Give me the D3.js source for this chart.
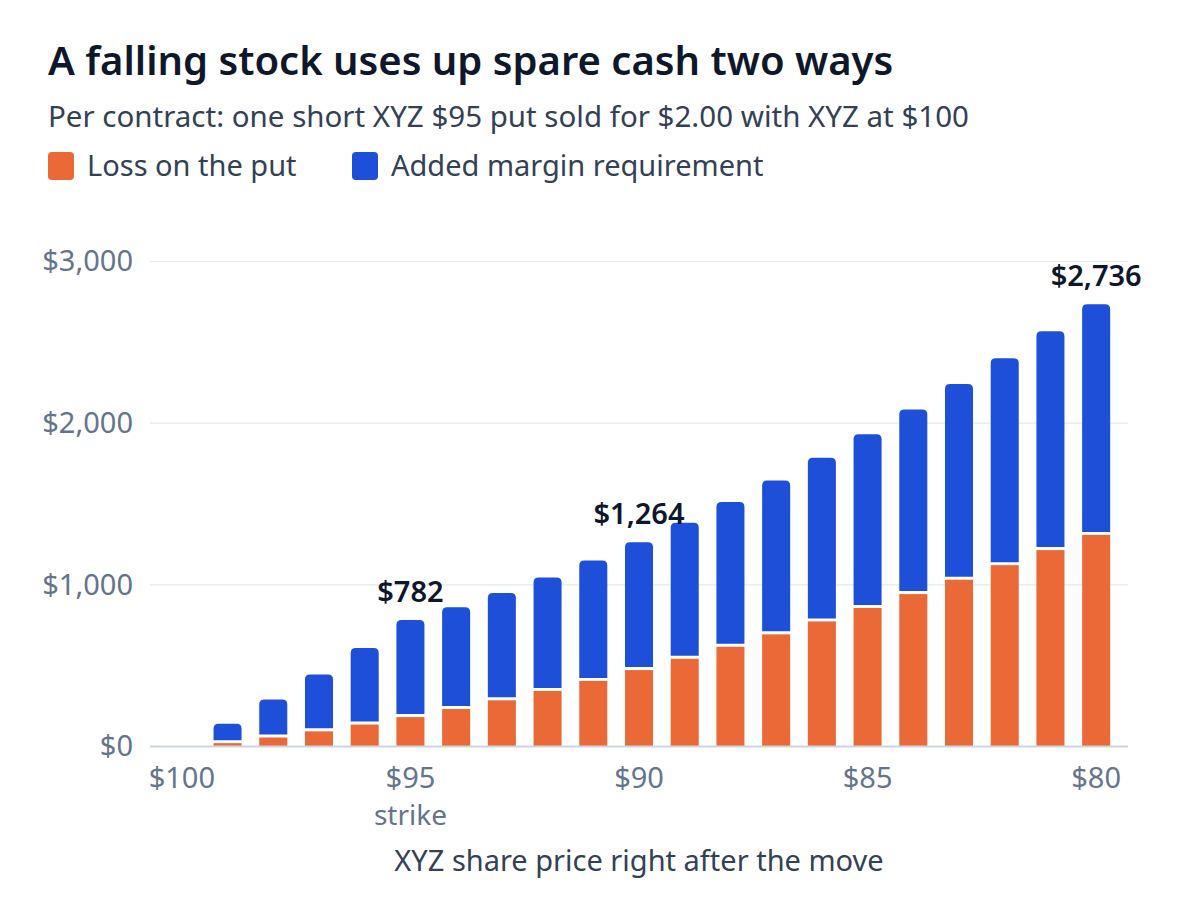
<!DOCTYPE html>
<html>
<head>
<meta charset="utf-8">
<script src="https://cdn.jsdelivr.net/npm/d3@7"></script>
<style>
    html, body { margin: 0; padding: 0; background: #fff; }
    #chart { width: 1200px; height: 900px; }
    text { font-family: 'Noto Sans', 'Open Sans', sans-serif; }
</style>
</head>
<body>
<div id="chart"></div>
<script>
// ******************************* ******************************* //
// DATA: ONE SHORT XYZ $95 PUT, PER CONTRACT //
// ******************************* ******************************* //
const prices = [100, 99, 98, 97, 96, 95, 94, 93, 92, 91, 90, 89, 88, 87, 86, 85, 84, 83, 82, 81, 80];
const putLoss = [0, 30, 65, 103, 145, 191, 241, 295, 353, 415, 482, 552, 626, 703, 783, 866, 952, 1041, 1131, 1224, 1318];
const addedMargin = [0, 111, 225, 343, 465, 591, 621, 655, 693, 735, 782, 832, 886, 943, 1003, 1066, 1132, 1201, 1271, 1344, 1418];
const xTicks = [100, 95, 90, 85, 80];
const yTicks = [0, 1000, 2000, 3000];
const callouts = [95, 90, 80];
const seriesNames = ['Loss on the put', 'Added margin requirement'];
const colors = ['#ea6936', '#1e4fd8'];

const rows = prices.map((p, i) => ({ price: p, loss: putLoss[i], margin: addedMargin[i] }));

// MAIN SVG
const svg = d3.select('#chart').append('svg')
    .attr('width', 1200)
    .attr('height', 900);

// SET SIZES
const MARGIN = { top: 261.5, right: 72, bottom: 153.5, left: 150 };
const WIDTH = 1200 - MARGIN.left - MARGIN.right;
const HEIGHT = 900 - MARGIN.top - MARGIN.bottom;

// TITLE + SUBTITLE
svg.append('text')
    .attr('x', 48).attr('y', 75)
    .style('font-size', '40px').style('font-weight', 600)
    .style('fill', '#0f172a')
    .text('A falling stock uses up spare cash two ways');

svg.append('text')
    .attr('x', 48).attr('y', 127)
    .style('font-size', '29.5px')
    .style('fill', '#334155')
    .text('Per contract: one short XYZ $95 put sold for $2.00 with XYZ at $100');

// LEGEND
const legendX = [48, 352];
seriesNames.forEach((name, i) => {
    const lg = svg.append('g').attr('transform', `translate(${legendX[i]}, 152)`);
    lg.append('rect')
        .attr('width', 26).attr('height', 28).attr('rx', 4)
        .style('fill', colors[i]);
    lg.append('text')
        .attr('x', 39).attr('y', 24)
        .style('font-size', '29px')
        .style('fill', '#334155')
        .text(name);
});

// APPEND G
const g = svg.append('g').attr('transform', `translate(${MARGIN.left},${MARGIN.top})`);

// SCALES
const x = d3.scaleBand()
    .domain(prices)
    .range([0, WIDTH])
    .paddingInner(0.387)
    .paddingOuter(0.39);

const y = d3.scaleLinear()
    .domain([0, 3000])
    .range([HEIGHT, 0]);

// GRID LINES
g.selectAll('.grid')
    .data(yTicks.filter(d => d > 0))
    .enter().append('line')
    .attr('class', 'grid')
    .attr('x1', 0).attr('x2', WIDTH)
    .attr('y1', d => y(d)).attr('y2', d => y(d))
    .style('stroke', '#e5e7eb').style('stroke-width', 1.2);

// Y AXIS
const yAxisCall = d3.axisLeft(y)
    .tickValues(yTicks)
    .tickSize(0)
    .tickPadding(17)
    .tickFormat(d => '$' + d3.format(',')(d));

const yAxis = g.append('g').attr('class', 'axis y-axis').call(yAxisCall);
yAxis.select('.domain').remove();
yAxis.selectAll('text')
    .style('font-size', '29px')
    .style('fill', '#64748b');

// STACKED BARS
const stacked = d3.stack().keys(['loss', 'margin'])(rows);
const gap = 1.5;

// orange: loss on the put
g.selectAll('.bar-loss')
    .data(stacked[0].filter(d => d[1] > d[0]))
    .enter().append('rect')
    .attr('class', 'bar-loss')
    .attr('x', d => x(d.data.price))
    .attr('width', x.bandwidth())
    .attr('y', d => y(d[1]) + gap)
    .attr('height', d => y(d[0]) - y(d[1]) - gap)
    .style('fill', colors[0]);

// blue: added margin, rounded top corners
const r = 5;
const topRounded = d => {
    const x0 = x(d.data.price), x1 = x0 + x.bandwidth();
    const yt = y(d[1]), yb = y(d[0]) - gap;
    return `M${x0},${yb}V${yt + r}Q${x0},${yt} ${x0 + r},${yt}H${x1 - r}Q${x1},${yt} ${x1},${yt + r}V${yb}Z`;
};
g.selectAll('.bar-margin')
    .data(stacked[1].filter(d => d[1] > d[0]))
    .enter().append('path')
    .attr('class', 'bar-margin')
    .attr('d', topRounded)
    .style('fill', colors[1]);

// BASELINE
g.append('line')
    .attr('x1', 0).attr('x2', WIDTH)
    .attr('y1', y(0)).attr('y2', y(0))
    .style('stroke', '#cbd5e1').style('stroke-width', 2);

// X AXIS
const xAxisCall = d3.axisBottom(x)
    .tickValues(xTicks)
    .tickSize(0)
    .tickPadding(21)
    .tickFormat(d => '$' + d);

const xAxis = g.append('g').attr('class', 'axis x-axis')
    .attr('transform', `translate(0, ${HEIGHT})`)
    .call(xAxisCall);
xAxis.select('.domain').remove();
xAxis.selectAll('text')
    .style('font-size', '29px')
    .style('fill', '#64748b');

// strike note under $95
g.append('text')
    .attr('x', x(95) + x.bandwidth() / 2)
    .attr('y', HEIGHT + 78)
    .attr('text-anchor', 'middle')
    .style('font-size', '28px')
    .style('fill', '#64748b')
    .text('strike');

// X AXIS TITLE
g.append('text')
    .attr('x', WIDTH / 2)
    .attr('y', HEIGHT + 124)
    .attr('text-anchor', 'middle')
    .style('font-size', '29px')
    .style('fill', '#334155')
    .text('XYZ share price right after the move');

// TOTAL CALLOUTS
g.selectAll('.callout')
    .data(rows.filter(d => callouts.includes(d.price)))
    .enter().append('text')
    .attr('class', 'callout')
    .attr('x', d => x(d.price) + x.bandwidth() / 2)
    .attr('y', d => y(d.loss + d.margin) - 18)
    .attr('text-anchor', 'middle')
    .style('font-size', '29px')
    .style('font-weight', 600)
    .style('fill', '#0f172a')
    .text(d => '$' + d3.format(',')(d.loss + d.margin));
</script>
</body>
</html>
